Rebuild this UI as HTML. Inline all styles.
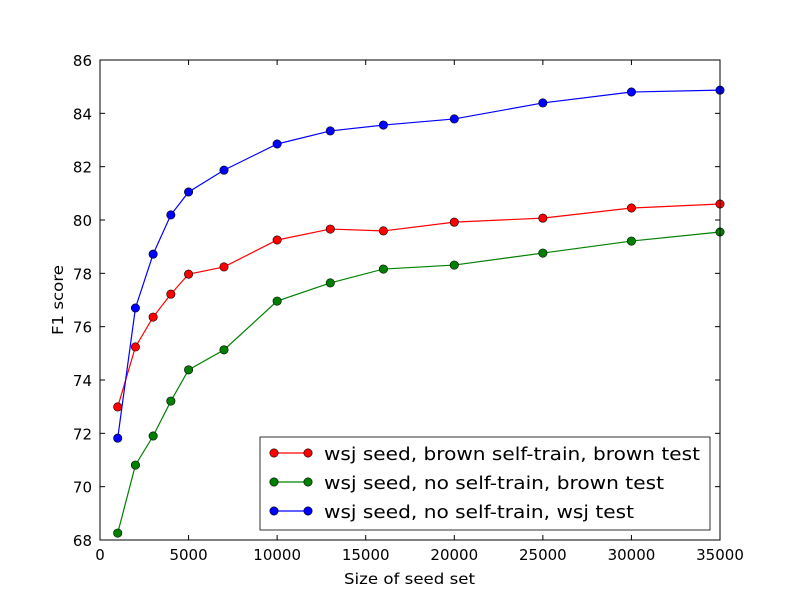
<!DOCTYPE html>
<html><head><meta charset="utf-8"><style>
body{margin:0;background:#fff;}
svg{display:block;font-family:"DejaVu Sans","Liberation Sans",sans-serif;}
</style></head><body>
<svg id="chart" width="800" height="600"></svg>
<script>
const xValues=[1000,2000,3000,4000,5000,7000,10000,13000,16000,20000,25000,30000,35000];
const redValues=[72.99,75.24,76.36,77.22,77.97,78.24,79.25,79.66,79.59,79.92,80.07,80.45,80.6];
const greenValues=[68.26,70.81,71.9,73.21,74.38,75.13,76.96,77.64,78.16,78.31,78.76,79.21,79.55];
const blueValues=[71.82,76.7,78.72,80.19,81.05,81.87,82.85,83.34,83.56,83.79,84.39,84.8,84.87];
const xTicks=[0,5000,10000,15000,20000,25000,30000,35000];
const yTicks=[68,70,72,74,76,78,80,82,84,86];
const seriesNames=["wsj seed, brown self-train, brown test","wsj seed, no self-train, brown test","wsj seed, no self-train, wsj test"];
const seriesColors=["#ff0000","#008000","#0000ff"];
const legendWidths=[376,340,310];

const L=100,R=720,T=60,B=540;
const sx=v=>L+(v-0)/35000*(R-L);
const sy=v=>B-(v-68)/18*(B-T);
const NS="http://www.w3.org/2000/svg";
const svg=document.getElementById('chart');
function mk(tag,attrs,parent){const e=document.createElementNS(NS,tag);for(const k in attrs)e.setAttribute(k,attrs[k]);(parent||svg).appendChild(e);return e;}

xTicks.forEach(t=>{
  const x=sx(t);
  const g=mk('g',{});
  
  
  mk('line',{x1:x,y1:B,x2:x,y2:B-5,stroke:'#000'},g);
  mk('line',{x1:x,y1:T,x2:x,y2:T+5,stroke:'#000'},g);
  const tx=mk('text',{x:x,y:B+20,'font-size':15,'text-anchor':'middle'},g);tx.textContent=t;
});
yTicks.forEach(t=>{
  const y=sy(t);
  const g=mk('g',{});
  
  
  mk('line',{x1:L,y1:y,x2:L+5,y2:y,stroke:'#000'},g);
  mk('line',{x1:R,y1:y,x2:R-5,y2:y,stroke:'#000'},g);
  const tx=mk('text',{x:L-8,y:y+6,'font-size':15,'text-anchor':'end'},g);tx.textContent=t;
});

const all=[redValues,greenValues,blueValues];
all.forEach((vals,i)=>{
  const g=mk('g',{});
  
  
  const pts=xValues.map((x,j)=>sx(x)+','+sy(vals[j])).join(' ');
  mk('polyline',{points:pts,fill:'none',stroke:seriesColors[i],'stroke-width':1.2},g);
  xValues.forEach((x,j)=>{
    const c=mk('circle',{cx:sx(x),cy:sy(vals[j]),r:4.2,fill:seriesColors[i],stroke:'#000','stroke-width':0.6},g);
    
    
  });
});

const fr=mk('rect',{x:L,y:T,width:R-L,height:B-T,fill:'none',stroke:'#000','stroke-width':1});



const xl=mk('text',{x:344,y:584,'font-size':15,textLength:131,lengthAdjust:'spacingAndGlyphs'});xl.textContent='Size of seed set';


const yl=mk('text',{x:0,y:0,'font-size':15,textLength:70,lengthAdjust:'spacingAndGlyphs',transform:'translate(63 335) rotate(-90)'});yl.textContent='F1 score';



const lg=mk('g',{});


mk('rect',{x:260,y:437,width:450,height:93,fill:'#fff',stroke:'#000','stroke-width':0.8},lg);
seriesNames.forEach((n,i)=>{
  const y=453+i*29;
  const e=mk('g',{},lg);
  
  
  mk('line',{x1:274,y1:y,x2:308,y2:y,stroke:seriesColors[i],'stroke-width':1.2},e);
  mk('circle',{cx:274,cy:y,r:4.2,fill:seriesColors[i],stroke:'#000','stroke-width':0.6},e);
  mk('circle',{cx:308,cy:y,r:4.2,fill:seriesColors[i],stroke:'#000','stroke-width':0.6},e);
  const t=mk('text',{x:324,y:y+7,'font-size':18,textLength:legendWidths[i],lengthAdjust:'spacingAndGlyphs'},e);t.textContent=n;
});
</script>
</body></html>
